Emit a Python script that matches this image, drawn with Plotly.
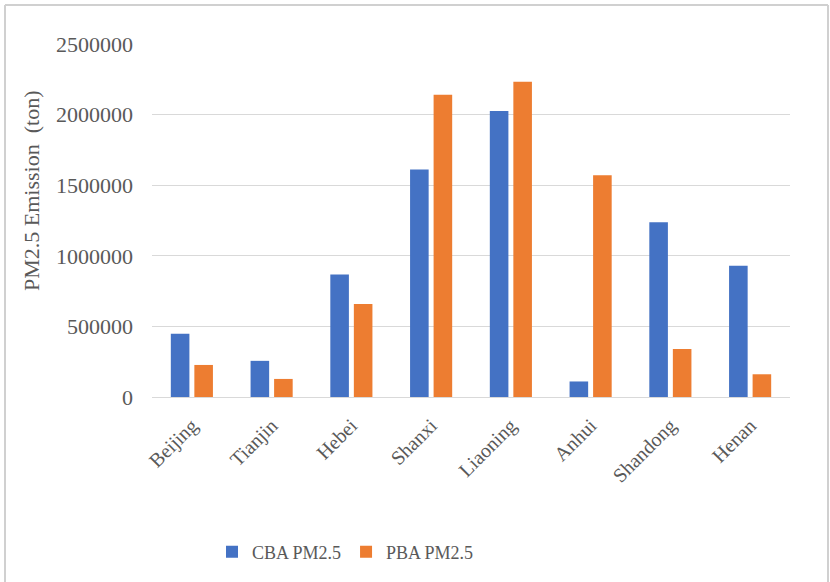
import plotly.graph_objects as go

provinces = ["Beijing", "Tianjin", "Hebei", "Shanxi", "Liaoning", "Anhui", "Shandong", "Henan"]
cba_pm25 = [448000, 256000, 868000, 1612000, 2025000, 110000, 1237000, 930000]
pba_pm25 = [227000, 128000, 658000, 2140000, 2232000, 1571000, 340000, 161000]
y_ticks = [0, 500000, 1000000, 1500000, 2000000, 2500000]

W, H = 830, 582
L, R, T, B = 152, 40, 44, 185
pw, ph = W - L - R, H - T - B


def px_x(p):
    return (p - L) / pw


def px_y(p):
    return (H - B - p) / ph


font_family = "Liberation Serif, Times New Roman, serif"
grey_text = "#595959"

fig = go.Figure()
fig.add_trace(go.Bar(x=provinces, y=cba_pm25, name="CBA PM2.5",
                     marker=dict(color="#4472C4", line=dict(width=0))))
fig.add_trace(go.Bar(x=provinces, y=pba_pm25, name="PBA PM2.5",
                     marker=dict(color="#ED7D31", line=dict(width=0))))

# light frame around the chart (left, top, right edges)
frame = dict(type="line", xref="paper", yref="paper",
             line=dict(color="#d0d0d0", width=2))
fig.add_shape(**frame, x0=px_x(5), x1=px_x(5), y0=px_y(5), y1=px_y(582))
fig.add_shape(**frame, x0=px_x(5), x1=px_x(828), y0=px_y(5), y1=px_y(5))
fig.add_shape(**frame, x0=px_x(828), x1=px_x(828), y0=px_y(5), y1=px_y(582))

# vertical axis title
fig.add_annotation(text="PM2.5 Emission\u00a0 (ton)", textangle=-90,
                   xref="paper", yref="paper", x=px_x(31), y=px_y(191),
                   xanchor="center", yanchor="middle", showarrow=False,
                   font=dict(size=22, color=grey_text, family=font_family))

fig.update_layout(
    width=W, height=H,
    margin=dict(l=L, r=R, t=T, b=B, autoexpand=False),
    paper_bgcolor="white", plot_bgcolor="white",
    barmode="group", bargap=0.41, bargroupgap=0.21,
    font=dict(family=font_family, color=grey_text, size=18),
    showlegend=True,
    legend=dict(orientation="h", x=px_x(212), y=px_y(552), xanchor="left", yanchor="middle",
                font=dict(size=18, color=grey_text, family=font_family), itemwidth=30,
                bgcolor="rgba(0,0,0,0)", traceorder="normal"),
    xaxis=dict(tickangle=-45, showgrid=False, showline=True, linecolor="#d9d9d9",
               linewidth=1, ticks="", ticklabelstandoff=8,
               tickfont=dict(size=20, color=grey_text, family=font_family)),
    yaxis=dict(range=[0, 2500000], tickvals=y_ticks, ticktext=[str(v) for v in y_ticks],
               showgrid=True, gridcolor="#d9d9d9", gridwidth=1, zeroline=False,
               showline=False, ticks="", ticklen=0, ticklabelstandoff=18,
               tickfont=dict(size=22, color=grey_text, family=font_family)),
)

fig.write_html("out.html")
